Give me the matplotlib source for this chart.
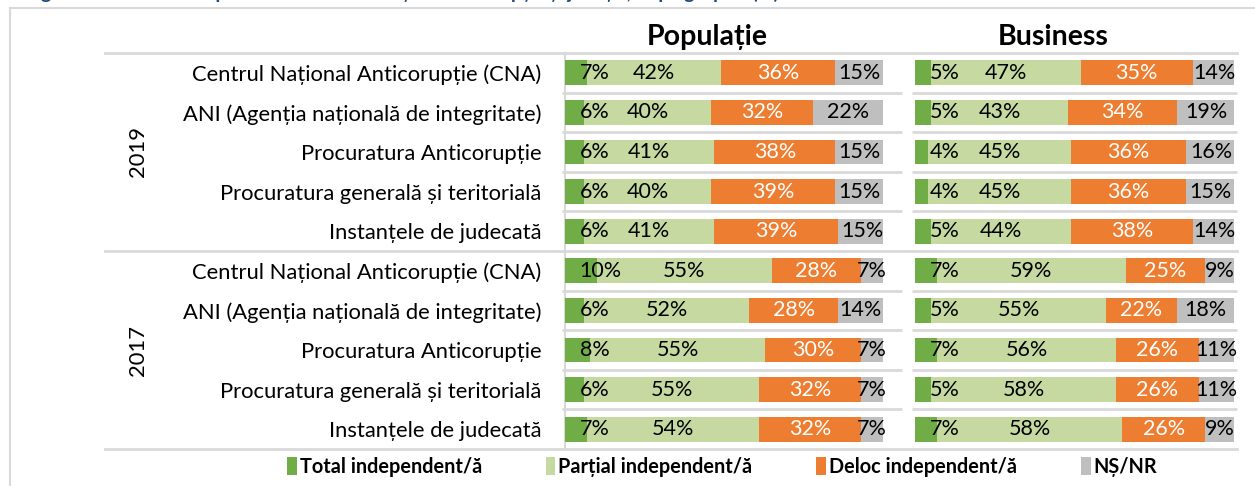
import numpy as np
import matplotlib
matplotlib.use('Agg')
import matplotlib.pyplot as plt
from matplotlib.lines import Line2D
from matplotlib.patches import Patch
from matplotlib.transforms import blended_transform_factory

plt.rcParams['font.family'] = ['Lato', 'DejaVu Sans']

## data
categories = ['Centrul Național Anticorupție (CNA)',
              'ANI (Agenția națională de integritate)',
              'Procuratura Anticorupție',
              'Procuratura generală și teritorială',
              'Instanțele de judecată']
years = ['2019', '2017']
row_labels = categories + categories

series_names = ['Total independent/ă', 'Parțial independent/ă', 'Deloc independent/ă', 'NȘ/NR']
colors = ['#70AD47', '#C5D9A0', '#ED7D31', '#BFBFBF']
text_colors = ['black', 'black', 'white', 'black']

pop_total = [7, 6, 6, 6, 6, 10, 6, 8, 6, 7]
pop_partial = [42, 40, 41, 40, 41, 55, 52, 55, 55, 54]
pop_deloc = [36, 32, 38, 39, 39, 28, 28, 30, 32, 32]
pop_ns = [15, 22, 15, 15, 15, 7, 14, 7, 7, 7]

bus_total = [5, 5, 4, 4, 5, 7, 5, 7, 5, 7]
bus_partial = [47, 43, 45, 45, 44, 59, 55, 56, 58, 58]
bus_deloc = [35, 34, 36, 36, 38, 25, 22, 26, 26, 26]
bus_ns = [14, 19, 16, 15, 14, 9, 18, 11, 11, 9]

panels = [('Populație', [pop_total, pop_partial, pop_deloc, pop_ns]),
          ('Business', [bus_total, bus_partial, bus_deloc, bus_ns])]

W, H = 1255, 486
fig = plt.figure(figsize=(W / 100, H / 100), dpi=100)
grid_c = '#D9D9D9'

def fx(px):
  return px / W

def fy(px):
  return 1 - px / H

top_px, bot_px = 53, 449
panel_x = [(565, 883), (915, 1234)]
title_x = [707, 1053]
val_size = 15.5

axes = []
for k, (name, data) in enumerate(panels):
  x0, x1 = panel_x[k]
  ax = fig.add_axes([fx(x0), fy(bot_px), fx(x1 - x0), fy(top_px) - fy(bot_px)])
  axes.append(ax)
  y = np.arange(len(row_labels))
  left = np.zeros(len(row_labels))
  for s, vals in enumerate(data):
    vals = np.array(vals, dtype=float)
    ax.barh(y, vals, left=left, height=0.63, color=colors[s], zorder=3)
    for i, v in enumerate(vals):
      if s == 0:
        ax.text(4.6, i, '%d%%' % v, ha='left', va='center', fontsize=val_size, color=text_colors[s], zorder=4)
      else:
        ax.text(left[i] + v / 2, i, '%d%%' % v, ha='center', va='center', fontsize=val_size, color=text_colors[s], zorder=4)
    left += vals
  ax.set_xlim(0, 100)
  ax.set_ylim(len(row_labels) - 0.5, -0.5)
  for sp in ['top', 'right', 'bottom']:
    ax.spines[sp].set_visible(False)
  ax.set_xticks([])
  # row separator lines inside the panel
  for b in np.arange(0.5, len(row_labels) - 1, 1.0):
    if b == 4.5:
      continue
    ax.hlines(b, -1, 101 if k == 1 else 106, color=grid_c, linewidth=2, clip_on=False, zorder=1)
  fig.text(fx(title_x[k]), fy(37), name, ha='center', va='center', fontsize=20.5, fontweight='bold')

ax1, ax2 = axes
ax1.spines['left'].set_color(grid_c)
ax1.spines['left'].set_linewidth(1.5)
ax1.set_yticks(np.arange(len(row_labels)))
ax1.set_yticklabels(row_labels, fontsize=15.8)
ax1.tick_params(axis='y', length=0, pad=17)
ax2.spines['left'].set_visible(False)
ax2.set_yticks([])

# group lines spanning the label area
tr = blended_transform_factory(fig.transFigure, ax1.transData)
for b in [-0.5, 4.5, 9.5]:
  fig.add_artist(Line2D([fx(105), fx(1237)], [b, b], transform=tr, color=grid_c, linewidth=2))

# year labels
for g, yr in enumerate(years):
  fig.text(fx(138), 2 + 5 * g, yr, transform=tr, ha='center', va='center', rotation=90, fontsize=15.8)

# outer border and the title, which the reference shows cut off at the top edge
fig.add_artist(Line2D([fx(10), fx(10)], [0, fy(8)], color=grid_c, linewidth=1.5))
fig.add_artist(Line2D([fx(10), 1], [fy(8), fy(8)], color=grid_c, linewidth=1.5))
fig.text(fx(25), fy(-1.5), 'Figura 12. Cât de independente sunt instituțiile anticorupție și justiția, după grupuri (%)',
         ha='left', va='baseline', fontsize=14, fontweight='bold', color='#1F4E79')

handles = [Patch(facecolor=c, edgecolor='none') for c in colors]
fig.legend(handles, series_names, ncol=4, loc='center', bbox_to_anchor=(fx(722), fy(467)),
           frameon=False, prop={'weight': 'bold', 'size': 14.3}, handlelength=0.5, handleheight=1.0,
           handletextpad=0.15, columnspacing=3.2)

fig.savefig('out.png', dpi=100)
